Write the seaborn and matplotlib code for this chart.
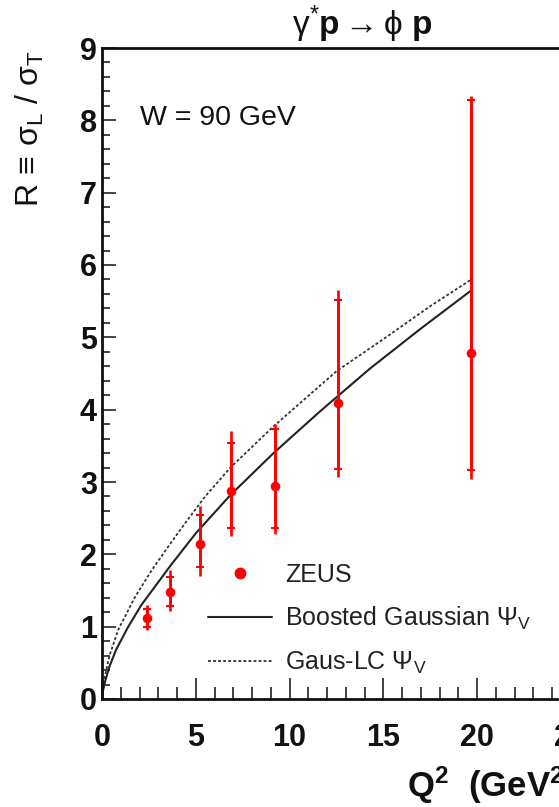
import numpy as np
import pandas as pd
import matplotlib
matplotlib.use("Agg")
import matplotlib.pyplot as plt
import seaborn as sns
from matplotlib.lines import Line2D

# ---------------- data ----------------
q2 = [2.4, 3.6, 5.2, 6.9, 9.2, 12.6, 19.7]
r_val = [1.12, 1.48, 2.14, 2.88, 2.94, 4.09, 4.78]
stat_hi = [1.24, 1.68, 2.55, 3.54, 3.73, 5.51, 8.28]
stat_lo = [1.00, 1.29, 1.82, 2.36, 2.36, 3.18, 3.17]
tot_hi = [1.30, 1.79, 2.67, 3.71, 3.80, 5.65, 8.33]
tot_lo = [0.95, 1.22, 1.70, 2.26, 2.28, 3.07, 3.04]

bg_q2 = [0, 0.05, 0.15, 0.4, 0.75, 1.4, 2.1, 2.9, 3.7, 5.0, 6.85, 9.15, 11.6, 14.3, 17.0, 19.7]
bg_r = [0, 0.11, 0.23, 0.45, 0.68, 1.0, 1.30, 1.58, 1.86, 2.29, 2.82, 3.40, 3.97, 4.57, 5.12, 5.65]

lc_q2 = [0, 0.05, 0.15, 0.4, 0.87, 1.76, 2.65, 3.54, 4.43, 5.5, 6.85, 9.15, 12.5, 15.2, 17.5, 19.7]
lc_r = [0, 0.15, 0.31, 0.60, 0.96, 1.41, 1.78, 2.11, 2.43, 2.80, 3.20, 3.77, 4.53, 5.01, 5.43, 5.80]

x_ticks = [0, 5, 10, 15, 20, 25, 30]
y_ticks = [0, 1, 2, 3, 4, 5, 6, 7, 8, 9]

# ---------------- style ----------------
sns.set_theme(style="ticks")
plt.rcParams["font.family"] = ["Liberation Sans", "DejaVu Sans"]
plt.rcParams["mathtext.fontset"] = "custom"
plt.rcParams["mathtext.rm"] = "Liberation Sans"
plt.rcParams["mathtext.it"] = "Liberation Sans:italic"
plt.rcParams["mathtext.bf"] = "Liberation Sans:bold"
plt.rcParams["mathtext.default"] = "regular"

W, H = 559, 807
fig = plt.figure(figsize=(W / 100, H / 100), dpi=100)
ax = fig.add_axes([102 / W, 108 / H, 30 * 18.75 / W, 651 / H])

RED = "#ff0000"
INK = "#111111"

# theory curves
df_bg = pd.DataFrame({"Q2": bg_q2, "R": bg_r})
df_lc = pd.DataFrame({"Q2": lc_q2, "R": lc_r})
sns.lineplot(data=df_lc, x="Q2", y="R", ax=ax, color="#333333", lw=1.3,
             linestyle=(0, (1.6, 1.2)), estimator=None, sort=False, zorder=2)
sns.lineplot(data=df_bg, x="Q2", y="R", ax=ax, color="#222222", lw=1.5,
             estimator=None, sort=False, zorder=2)

# data with errors
q2a = np.array(q2)
ra = np.array(r_val)
ax.errorbar(q2a, ra, yerr=[ra - np.array(tot_lo), np.array(tot_hi) - ra],
            fmt="none", ecolor=RED, elinewidth=1.9, capsize=0, zorder=3)
ax.errorbar(q2a, ra, yerr=[ra - np.array(stat_lo), np.array(stat_hi) - ra],
            fmt="none", ecolor=RED, elinewidth=1.9, capsize=3.0, capthick=1.5, zorder=3)
df_pts = pd.DataFrame({"Q2": q2, "R": r_val})
sns.scatterplot(data=df_pts, x="Q2", y="R", ax=ax, color=RED, s=48,
                edgecolor=RED, linewidth=0, zorder=4)

# axes
ax.set_xlim(0, 30)
ax.set_ylim(0, 9)
ax.set_xticks(x_ticks)
ax.set_xticklabels([str(t) for t in x_ticks])
ax.set_yticks(y_ticks)
ax.set_yticklabels([str(t) for t in y_ticks])
ax.set_xticks(np.arange(0, 31, 1), minor=True)
ax.set_yticks(np.arange(0, 9.01, 0.2), minor=True)
ax.tick_params(axis="x", which="major", direction="in", length=15, width=1.1,
               pad=17, labelsize=22, color=INK, labelcolor=INK)
ax.tick_params(axis="x", which="minor", direction="in", length=8.6, width=1.1, color=INK)
ax.tick_params(axis="y", which="major", direction="in", length=10, width=1.1,
               pad=3.6, labelsize=22, color=INK, labelcolor=INK)
ax.tick_params(axis="y", which="minor", direction="in", length=5.4, width=1.1, color=INK)
for lab in ax.get_xticklabels() + ax.get_yticklabels():
    lab.set_fontweight("bold")
for sp in ax.spines.values():
    sp.set_visible(True)
    sp.set_linewidth(2.0)
    sp.set_color(INK)
ax.set_xlabel("")
ax.set_ylabel("")

# labels / title
fig.text(362 / W, 1 - 24 / H, r"$\gamma^{*}\mathbf{p}\rightarrow\phi\ \mathbf{p}$",
         ha="center", va="center", fontsize=24, color=INK)
fig.text(30 / W, 1 - 50 / H, r"R$\,\equiv\,\sigma_{L}$ / $\sigma_{T}$", rotation=90,
         ha="center", va="top", fontsize=23, color=INK)
fig.text(407 / W, 1 - 785 / H, r"Q$^{\mathbf{2}}$  (GeV$^{\mathbf{2}}$)",
         ha="left", va="center", fontsize=25, fontweight="bold", color=INK)
ax.text(140 / W, 1 - 118 / H, "W = 90 GeV", transform=fig.transFigure,
        ha="left", va="center", fontsize=20.5, color=INK)

# legend
handles = [
    Line2D([], [], color=RED, marker="o", linestyle="none", markersize=7.5),
    Line2D([], [], color="#222222", lw=1.5),
    Line2D([], [], color="#333333", lw=1.3, linestyle=(0, (1.6, 1.2))),
]
labels = ["ZEUS", r"Boosted Gaussian Ψ$_{V}$", r"Gaus-LC Ψ$_{V}$"]
ax.legend(handles, labels, loc="upper left", bbox_to_anchor=(208 / W, 1 - 563 / H),
          bbox_transform=fig.transFigure, frameon=False, borderpad=0,
          borderaxespad=0, handlelength=2.56, handletextpad=0.52,
          labelspacing=0.72, fontsize=18, labelcolor="#222222")

fig.savefig("out.png", dpi=100)
